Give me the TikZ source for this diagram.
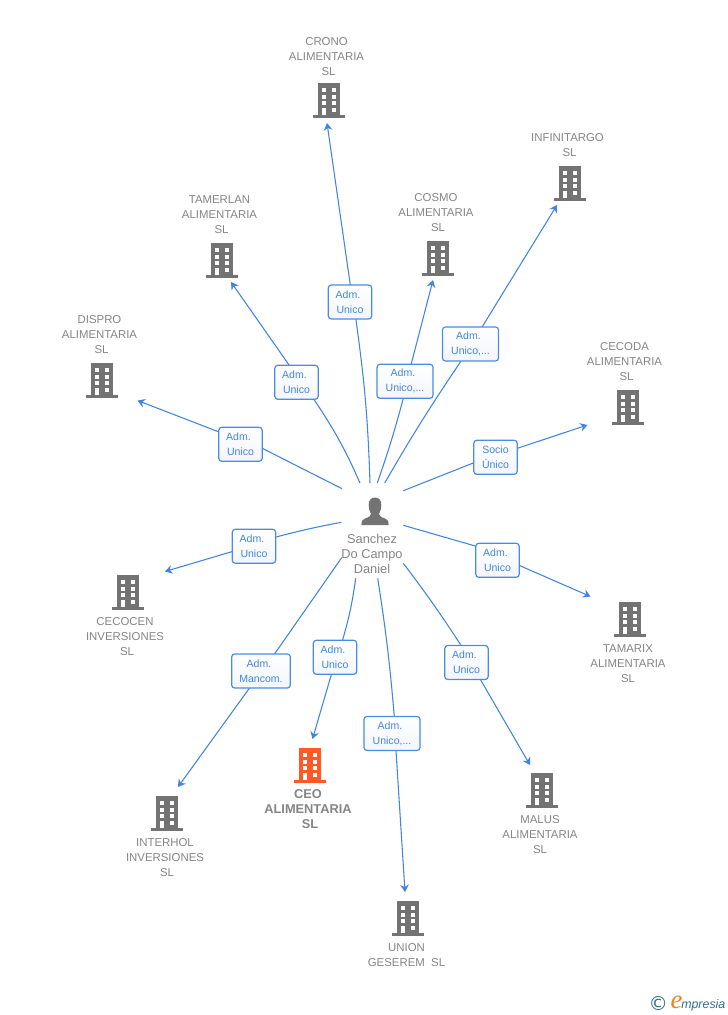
\documentclass[tikz,border=0pt]{standalone}
\usepackage{fontspec}
\setmainfont{Liberation Sans}
\newfontfamily\logoserif{Liberation Serif}
\newfontfamily\logosign{DejaVu Sans}
\usetikzlibrary{arrows.meta}
\definecolor{edgeblue}{HTML}{4285E0}
\definecolor{boxblue}{HTML}{4A8CE4}
\definecolor{boxshade}{HTML}{F2F5FA}
\definecolor{labelgrey}{HTML}{858585}
\definecolor{icongrey}{HTML}{737373}
\definecolor{ceoorange}{HTML}{FF5A26}
\definecolor{logoteal}{HTML}{2F7391}
\definecolor{logoorange}{HTML}{F08020}
\newcommand\tailgap{\hspace*{3pt}}
\tikzset{
  edge/.style={draw=edgeblue,line width=0.8pt,line join=round},
  tipedge/.style={edge,-{Stealth[length=5.5pt,width=6.5pt,inset=1.8pt]}},
  rolebox/.style={draw=boxblue,line width=0.9pt,rounded corners=2.2pt,top color=white,bottom color=boxshade,
    inner sep=0pt,minimum height=25.5pt,align=center,text=edgeblue,
    font=\fontsize{7.9}{11.25}\selectfont},
  boxsmall/.style={rolebox,minimum width=32.5pt},
  boxwide/.style={rolebox,minimum width=42pt},
  boxlarge/.style={rolebox,minimum width=44pt},
  company/.style={text=labelgrey,align=center,inner sep=0pt,
    font=\fontsize{8.55}{11.25}\selectfont},
  ceolabel/.style={text=labelgrey,align=center,inner sep=0pt,
    font=\fontsize{9.6}{11.25}\selectfont\bfseries},
  person/.style={text=labelgrey,align=center,inner sep=0pt,
    font=\fontsize{9.6}{11.25}\selectfont},
  iconspot/.style={minimum width=24pt,minimum height=26pt,inner sep=0pt},
  pics/building/.style={code={
    \fill[#1] (-11,-17) rectangle (11,15);
    \fill[#1] (-16,15) rectangle (16,17.6);
    \foreach \yy in {-12.3,-5.4,1}{
      \fill[white] (-7,\yy) rectangle (-3,\yy+4);
      \fill[white] (3,\yy) rectangle (7,\yy+4);
    }
    \fill[white] (-7,7.7) rectangle (-3,15);
    \fill[white] (3,7.7) rectangle (7,11.7);
  }}
}
\begin{document}
\begin{tikzpicture}[x=0.75pt,y=-0.75pt]
\useasboundingbox (0,0) rectangle (728,1015);
\fill[white] (0,0) rectangle (728,1015);

% person
\node[iconspot] (sanchez) at (375,511) {};
\fill[icongrey] (368.7,505) .. controls (368.7,500) and (371,497.5) .. (375,497.5) .. controls (379,497.5) and (381.3,500) .. (381.3,505) .. controls (381.3,509) and (380,512) .. (379,514) .. controls (379,516) and (381,517) .. (385,518.5) .. controls (387.5,519.5) and (388.6,521) .. (388.6,525) -- (361.4,525) .. controls (361.4,521) and (362.5,519.5) .. (365,518.5) .. controls (369,517) and (371,516) .. (371,514) .. controls (370,512) and (368.7,509) .. (368.7,505) -- cycle;
\node[person] (sanchezname) at (372,554) {Sanchez\\Do Campo\\Daniel};

% companies
\node[iconspot] (crono) at (329,100) {};
\pic at (crono) {building=icongrey};
\node[company] (crononame) at (326.5,56.8) {CRONO\\ALIMENTARIA\\\tailgap SL};
\node[iconspot] (infinitargo) at (570,183) {};
\pic at (infinitargo) {building=icongrey};
\node[company] (infinitargoname) at (567.5,145) {INFINITARGO\\\tailgap SL};
\node[iconspot] (cosmo) at (438,258) {};
\pic at (cosmo) {building=icongrey};
\node[company] (cosmoname) at (436,212.8) {COSMO\\ALIMENTARIA\\\tailgap SL};
\node[iconspot] (tamerlan) at (222,260) {};
\pic at (tamerlan) {building=icongrey};
\node[company] (tamerlanname) at (219.5,214.8) {TAMERLAN\\ALIMENTARIA\\\tailgap SL};
\node[iconspot] (dispro) at (102,380) {};
\pic at (dispro) {building=icongrey};
\node[company] (disproname) at (99.5,334.8) {DISPRO\\ALIMENTARIA\\\tailgap SL};
\node[iconspot] (cecoda) at (627.5,407) {};
\pic at (cecoda) {building=icongrey};
\node[company] (cecodaname) at (624.5,361.8) {CECODA\\ALIMENTARIA\\\tailgap SL};
\node[iconspot] (cecocen) at (127.5,592) {};
\pic at (cecocen) {building=icongrey};
\node[company] (cecocenname) at (125,636.5) {CECOCEN\\INVERSIONES\\\tailgap SL};
\node[iconspot] (tamarix) at (630,619) {};
\pic at (tamarix) {building=icongrey};
\node[company] (tamarixname) at (628,663.5) {TAMARIX\\ALIMENTARIA\\SL};
\node[iconspot] (interhol) at (167,813) {};
\pic at (interhol) {building=icongrey};
\node[company] (interholname) at (165,857.8) {INTERHOL\\INVERSIONES\\\tailgap SL};
\node[iconspot] (ceo) at (310,765) {};
\pic at (ceo) {building=ceoorange};
\node[ceolabel] (ceoname) at (308,809.3) {CEO\\ALIMENTARIA\\\tailgap SL};
\node[iconspot] (malus) at (541.5,790) {};
\pic at (malus) {building=icongrey};
\node[company] (malusname) at (540,834.8) {MALUS\\ALIMENTARIA\\SL};
\node[iconspot] (union) at (408,918) {};
\pic at (union) {building=icongrey};
\node[company] (unionname) at (406.5,955) {UNION\\GESEREM\ \ SL};

% connector free ends
\coordinate (s1) at (370,483);     \coordinate (a1) at (356,320);    \coordinate (z1) at (350.3,285);  \coordinate (t1) at (327,123);
\coordinate (s2) at (360,483);     \coordinate (a2) at (314,399.5);  \coordinate (z2) at (288.7,364.5);\coordinate (t2) at (231,282);
\coordinate (s3) at (377.3,483);   \coordinate (a3) at (403.3,398.5);\coordinate (z3) at (411.3,363.7);\coordinate (t3) at (433,280);
\coordinate (s4) at (384.7,483);   \coordinate (a4) at (461.3,360.7);\coordinate (z4) at (482.7,326);  \coordinate (t4) at (557,205);
\coordinate (s5) at (403.3,490.7); \coordinate (a5) at (474,462.7);  \coordinate (z5) at (517.3,448.3);\coordinate (t5) at (587.5,425);
\coordinate (s6) at (342,488.7);   \coordinate (a6) at (262.3,448.3);\coordinate (z6) at (218.3,431.7);\coordinate (t6) at (137.5,400.5);
\coordinate (s7) at (341.3,522.3); \coordinate (a7) at (276,537);    \coordinate (z7) at (231.7,551.7);\coordinate (t7) at (165,571.5);
\coordinate (s8) at (403.3,525.3); \coordinate (a8) at (475.3,546);  \coordinate (z8) at (519,565.3);  \coordinate (t8) at (590.5,596.5);
\coordinate (s9) at (341.7,557.7); \coordinate (a9) at (275,653.3);  \coordinate (z9) at (249.3,688.3);\coordinate (t9) at (178,787);
\coordinate (s10) at (355.7,578.3);\coordinate (a10) at (342.7,639.7);\coordinate (z10) at (331.3,674.7);\coordinate (t10) at (312.5,739);
\coordinate (s11) at (377.7,578.3);\coordinate (a11) at (394.3,716.7);\coordinate (z11) at (396,750.7);\coordinate (t11) at (405,892);
\coordinate (s12) at (403.3,563.3);\coordinate (a12) at (461,645.3); \coordinate (z12) at (480.7,680); \coordinate (t12) at (530,765);

% role box centres
\coordinate (b1) at (350,302);
\coordinate (b2) at (296.5,382.3);
\coordinate (b3) at (405,381.3);
\coordinate (b4) at (470.5,344);
\coordinate (b5) at (495.5,457.3);
\coordinate (b6) at (240.5,444.3);
\coordinate (b7) at (254,546.3);
\coordinate (b8) at (497.5,560.3);
\coordinate (b9) at (261,671);
\coordinate (b10) at (335,657.3);
\coordinate (b11) at (392,733.5);
\coordinate (b12) at (466.5,662.5);

% connectors
\draw[tipedge] (s1) to[bend right=3] (a1) -- (z1) -- (t1);
\draw[tipedge] (s2) to[bend right=5] (a2) -- (z2) -- (t2);
\draw[tipedge] (s3) to[bend right=2] (a3) -- (z3) -- (t3);
\draw[tipedge] (s4) to[bend left=2] (a4) -- (z4) -- (t4);
\draw[tipedge] (s5) -- (a5) -- (z5) -- (t5);
\draw[tipedge] (s6) -- (a6) -- (z6) -- (t6);
\draw[tipedge] (s7) to[bend right=2] (a7) -- (z7) -- (t7);
\draw[tipedge] (s8) -- (a8) -- (z8) -- (t8);
\draw[tipedge] (s9) -- (a9) -- (z9) -- (t9);
\draw[tipedge] (s10) to[bend left=4] (a10) -- (z10) -- (t10);
\draw[tipedge] (s11) to[bend left=2] (a11) -- (z11) -- (t11);
\draw[tipedge] (s12) to[bend left=2] (a12) -- (z12) -- (t12);

\node[boxsmall] (r1) at (b1) {Adm.\tailgap\\Unico};
\node[boxsmall] (r2) at (b2) {Adm.\tailgap\\Unico};
\node[boxwide] (r3) at (b3) {Adm.\tailgap\\Unico,...};
\node[boxwide] (r4) at (b4) {Adm.\tailgap\\Unico,...};
\node[boxsmall] (r5) at (b5) {Socio\\Único};
\node[boxsmall] (r6) at (b6) {Adm.\tailgap\\Unico};
\node[boxsmall] (r7) at (b7) {Adm.\tailgap\\Unico};
\node[boxsmall] (r8) at (b8) {Adm.\tailgap\\Unico};
\node[boxlarge] (r9) at (b9) {Adm.\tailgap\\Mancom.};
\node[boxsmall] (r10) at (b10) {Adm.\tailgap\\Unico};
\node[boxwide] (r11) at (b11) {Adm.\tailgap\\Unico,...};
\node[boxsmall] (r12) at (b12) {Adm.\tailgap\\Unico};

% logo
\node[text=logoteal,inner sep=0pt,font=\logosign\fontsize{14.5}{14.5}\selectfont] (logoc) at (658.3,1003.5) {©};
\node[text=logoorange,inner sep=0pt,font=\logoserif\itshape\fontsize{20}{20}\selectfont] (logoe) at (676.5,1002) {e};
\node[text=logoteal,inner sep=0pt,anchor=base west,font=\itshape\fontsize{9.3}{12}\selectfont] (logot) at (681,1008) {mpresia};
\end{tikzpicture}
\end{document}
